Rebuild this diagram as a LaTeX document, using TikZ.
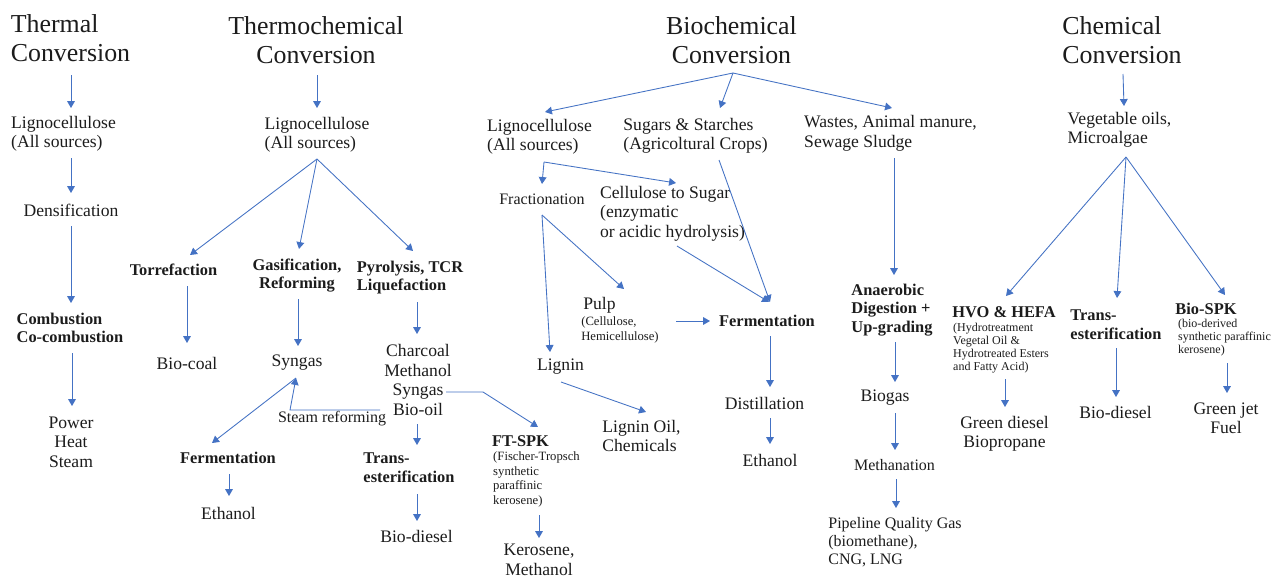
\documentclass[tikz,border=0pt]{standalone}
\usepackage{fontspec}
\setmainfont{Liberation Serif}
\usetikzlibrary{arrows.meta}
\definecolor{arrowc}{HTML}{4472C4}
\definecolor{textc}{HTML}{1C1C1C}
\newcommand\fbody{\fontsize{13.2}{14.6}\selectfont}
\newcommand\fmid{\fontsize{12}{13.6}\selectfont}
\newcommand\ftitle{\fontsize{19.4}{21.75}\selectfont}
\newcommand\fbld{\fontsize{12.3}{14}\selectfont\bfseries}
\newcommand\fsmall{\fontsize{9.5}{11}\selectfont}
\newcommand\fsmaller{\fontsize{9}{9.8}\selectfont}
\tikzset{
  txt/.style={inner sep=0pt, outer sep=0pt, text=textc, font=\fbody},
  ttl/.style={txt, font=\ftitle},
  bld/.style={txt, font=\fbld},
  sml/.style={txt, font=\fsmall, align=left},
  smr/.style={txt, font=\fsmaller, align=left},
  arr/.style={draw=arrowc, line width=0.65pt, -{Triangle[length=5.2pt,width=5.8pt]}}
}
\begin{document}
\begin{tikzpicture}[x=0.75pt,y=-0.75pt]
\fill[white] (0,0) rectangle (1284,579);
\useasboundingbox (0,0) rectangle (1284,579);
% ---------------- Thermal
\node[ttl,align=left] (tT) at (70.5,38) {Thermal\\Conversion};
\node[txt,align=left] (tL) at (63.5,134) {Lignocellulose\\(All sources)};
\node[txt] (tD) at (71,210) {Densification};
\node[bld,align=left] (tC) at (70,328) {Combustion\\Co-combustion};
\node[txt,align=center] (tP) at (71,442) {Power\\Heat\\Steam};
\draw[arr] ([shift={(0.5,37)}]tT.center) -- ([shift={(7.5,-26)}]tL.center);
\draw[arr] ([shift={(7.5,24)}]tL.center) -- ([shift={(0,-17)}]tD.center);
\draw[arr] ([shift={(0,16)}]tD.center) -- ([shift={(1,-25)}]tC.center);
\draw[arr] ([shift={(2,25)}]tC.center) -- ([shift={(1,-36)}]tP.center);
% ---------------- Thermochemical
\node[ttl,align=center] (hT) at (316,40) {Thermochemical\\Conversion};
\node[txt,align=left] (hL) at (317,134.5) {Lignocellulose\\(All sources)};
\node[bld] (hTo) at (173.5,270) {Torrefaction};
\node[bld,align=center] (hG) at (297,275.5) {Gasification,\\Reforming};
\node[bld,align=left] (hP) at (410,277.5) {Pyrolysis, TCR\\Liquefaction};
\node[txt] (hBc) at (187,363) {Bio-coal};
\node[txt] (hS) at (297,363) {Syngas};
\node[txt,align=center] (hCh) at (418,380) {Charcoal\\Methanol\\Syngas\\Bio-oil};
\node[txt,font=\fmid] (hSR) at (332,419) {Steam reforming};
\node[bld] (hF) at (228,458) {Fermentation};
\node[txt] (hE) at (228.5,513) {Ethanol};
\node[bld,align=left] (hTr) at (409,468) {Trans-\\esterification};
\node[txt] (hBd) at (416.5,536) {Bio-diesel};
\node[bld] (hFT) at (520.5,441) {FT-SPK};
\node[sml] (hFTd) at (536.5,479.5) {(Fischer-Tropsch\\synthetic\\paraffinic\\kerosene)};
\node[txt,align=center] (hK) at (539,560) {Kerosene,\\Methanol};
\draw[arr] ([shift={(1,35)}]hT.center) -- ([shift={(0,-26.5)}]hL.center);
\draw[arr] ([shift={(0,24.5)}]hL.center) -- ([shift={(16.5,-15)}]hTo.center);
\draw[arr] ([shift={(0,24.5)}]hL.center) -- ([shift={(2,-26.5)}]hG.center);
\draw[arr] ([shift={(0,24.5)}]hL.center) -- ([shift={(3,-26.5)}]hP.center);
\draw[arr] ([shift={(13.5,16)}]hTo.center) -- ([shift={(0,-20)}]hBc.center);
\draw[arr] ([shift={(1,23.5)}]hG.center) -- ([shift={(1,-17)}]hS.center);
\draw[arr] ([shift={(7,24.5)}]hP.center) -- ([shift={(-1,-46)}]hCh.center);
\draw[arr] ([shift={(-38,30)}]hCh.center) -- ++(-90,0) -- ([shift={(-1,15)}]hS.center);
\draw[arr] ([shift={(-1,15)}]hS.center) -- ([shift={(-16,-15)}]hF.center);
\draw[arr] ([shift={(1,16)}]hF.center) -- ([shift={(0.5,-17)}]hE.center);
\draw[arr] ([shift={(-1,44)}]hCh.center) -- ([shift={(8,-23)}]hTr.center);
\draw[arr] ([shift={(8,26)}]hTr.center) -- ([shift={(0.5,-15)}]hBd.center);
\draw[arr] ([shift={(28,12)}]hCh.center) -- ++(37,0) -- ([shift={(17.5,-14)}]hFT.center);
\draw[arr] ([shift={(2.5,35.5)}]hFTd.center) -- ([shift={(0,-22)}]hK.center);
% ---------------- Biochemical
\node[ttl,align=center] (bT) at (731.5,40) {Biochemical\\Conversion};
\node[txt,align=left] (bL) at (539.5,136.5) {Lignocellulose\\(All sources)};
\node[txt,align=left] (bS) at (695.5,136) {Sugars \& Starches\\(Agricoltural Crops)};
\node[txt,align=left] (bW) at (890.5,133.5) {Wastes, Animal manure,\\Sewage Sludge};
\node[txt,font=\fmid] (bFr) at (542,199) {Fractionation};
\node[txt,align=left] (bCS) at (672.5,213.5) {Cellulose to Sugar\\(enzymatic\\or acidic hydrolysis)};
\node[txt] (bPu) at (599.5,305) {Pulp};
\node[sml] (bPud) at (620,330) {(Cellulose,\\Hemicellulose)};
\node[bld] (bFe) at (767,321) {Fermentation};
\node[txt] (bLi) at (560.5,367) {Lignin};
\node[txt,align=left] (bLO) at (641.5,436) {Lignin Oil,\\Chemicals};
\node[txt] (bDi) at (764.5,403) {Distillation};
\node[txt] (bEt) at (770,460) {Ethanol};
\node[bld,align=left] (bAD) at (892,310) {Anaerobic\\Digestion +\\Up-grading};
\node[txt] (bBg) at (885,398) {Biogas};
\node[txt,font=\fmid] (bMe) at (894.5,465) {Methanation};
\node[txt,font=\fmid,align=left] (bPQ) at (895,542) {Pipeline Quality Gas\\(biomethane),\\CNG, LNG};
\draw[arr] ([shift={(1.5,33)}]bT.center) -- ([shift={(5.5,-24.5)}]bL.center);
\draw[arr] ([shift={(1.5,33)}]bT.center) -- ([shift={(24.5,-28)}]bS.center);
\draw[arr] ([shift={(1.5,33)}]bT.center) -- ([shift={(1.5,-25.5)}]bW.center);
\draw[arr] ([shift={(4.5,25.5)}]bL.center) -- ([shift={(0,-15)}]bFr.center);
\draw[arr] ([shift={(4.5,25.5)}]bL.center) -- ([shift={(3.5,-30.5)}]bCS.center);
\draw[arr] ([shift={(0,16)}]bFr.center) -- ([shift={(24.5,-16)}]bPu.center);
\draw[arr] ([shift={(0,16)}]bFr.center) -- ([shift={(-10.5,-15)}]bLi.center);
\draw[arr] ([shift={(56,-9)}]bPud.center) -- ([shift={(-57,0)}]bFe.center);
\draw[arr] ([shift={(4.5,32.5)}]bCS.center) -- ([shift={(2,-19)}]bFe.center);
\draw[arr] ([shift={(23.5,24)}]bS.center) -- ([shift={(3,-19)}]bFe.center);
\draw[arr] ([shift={(3,15)}]bFe.center) -- ([shift={(5.5,-16)}]bDi.center);
\draw[arr] ([shift={(5.5,15)}]bDi.center) -- ([shift={(0,-16)}]bEt.center);
\draw[arr] ([shift={(0.5,15)}]bLi.center) -- ([shift={(4.5,-24)}]bLO.center);
\draw[arr] ([shift={(3.5,24.5)}]bW.center) -- ([shift={(2,-35)}]bAD.center);
\draw[arr] ([shift={(3,32)}]bAD.center) -- ([shift={(10,-16)}]bBg.center);
\draw[arr] ([shift={(10,15)}]bBg.center) -- ([shift={(0.5,-15)}]bMe.center);
\draw[arr] ([shift={(1.5,14)}]bMe.center) -- ([shift={(1,-34)}]bPQ.center);
% ---------------- Chemical
\node[ttl,align=left] (cT) at (1122,40) {Chemical\\Conversion};
\node[txt,align=left] (cV) at (1119.5,130) {Vegetable oils,\\Microalgae};
\node[bld] (cH) at (1004,312.5) {HVO \& HEFA};
\node[smr] (cHd) at (1001,348.5) {(Hydrotreatment\\Vegetal Oil \&\\Hydrotreated Esters\\and Fatty Acid)};
\node[bld,align=left] (cTr) at (1116,325) {Trans-\\esterification};
\node[bld] (cBS) at (1206,309) {Bio-SPK};
\node[smr] (cBSd) at (1224.5,338) {(bio-derived\\synthetic paraffinic\\kerosene)};
\node[txt,align=center] (cGd) at (1004.5,433.5) {Green diesel\\Biopropane};
\node[txt] (cBd) at (1115.5,412) {Bio-diesel};
\node[txt,align=center] (cGj) at (1226,418.5) {Green jet\\Fuel};
\draw[arr] ([shift={(1,34)}]cT.center) -- ([shift={(4.5,-24)}]cV.center);
\draw[arr] ([shift={(6.5,27)}]cV.center) -- ([shift={(2,-16.5)}]cH.center);
\draw[arr] ([shift={(6.5,27)}]cV.center) -- ([shift={(1,-27)}]cTr.center);
\draw[arr] ([shift={(6.5,27)}]cV.center) -- ([shift={(19,-14)}]cBS.center);
\draw[arr] ([shift={(4,30.5)}]cHd.center) -- ([shift={(0.5,-26.5)}]cGd.center);
\draw[arr] ([shift={(0,23)}]cTr.center) -- ([shift={(0.5,-15)}]cBd.center);
\draw[arr] ([shift={(2.5,25)}]cBSd.center) -- ([shift={(1,-25.5)}]cGj.center);
\end{tikzpicture}
\end{document}
